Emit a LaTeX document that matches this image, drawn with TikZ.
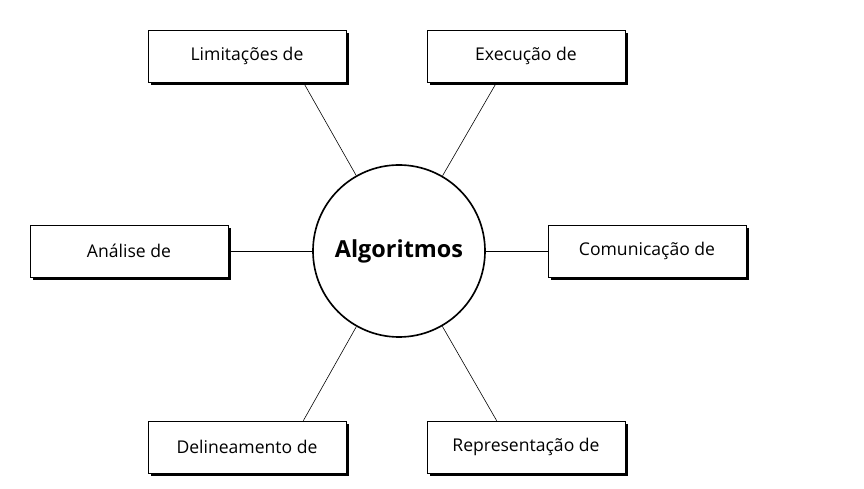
\documentclass[tikz,border=0pt]{standalone}
\usepackage{fontspec}
\setmainfont{Open Sans}
\usetikzlibrary{shadows}
\begin{document}
\begin{tikzpicture}[x=0.03cm,y=-0.03cm,
  topic/.style={draw, fill=white, line width=0.6pt, minimum width=5.94cm, minimum height=1.56cm,
    font=\fontsize{15}{17}\selectfont, drop shadow={shadow xshift=0.08cm, shadow yshift=-0.08cm, fill=black, opacity=1}},
  link/.style={line width=0.5pt}]
  \useasboundingbox (0,0) rectangle (864,489);
  \node (alg) [draw, circle, line width=1.4pt, minimum size=5.16cm, inner sep=0pt, font=\fontsize{20}{23}\selectfont\bfseries] at (399,251) {Algoritmos};
  \node (lim) [topic] at (247,56) {Limitações de};
  \node (exe) [topic] at (526,56) {Execução de};
  \node (ana) [topic] at (129,251) {Análise de};
  \node (com) [topic] at (647,251) {Comunicação de};
  \node (del) [topic] at (247,447) {Delineamento de};
  \node (rep) [topic] at (526,447) {Representação de};

  \draw [link] (alg) -- ([xshift=-1.29cm]lim.south east);
  \draw [link] (alg) -- ([xshift=2.1cm]exe.south west);
  \draw [link] (alg) -- (ana);
  \draw [link] (alg) -- (com);
  \draw [link] (alg) -- ([xshift=-1.29cm]del.north east);
  \draw [link] (alg) -- ([xshift=2.1cm]rep.north west);
\end{tikzpicture}
\end{document}
